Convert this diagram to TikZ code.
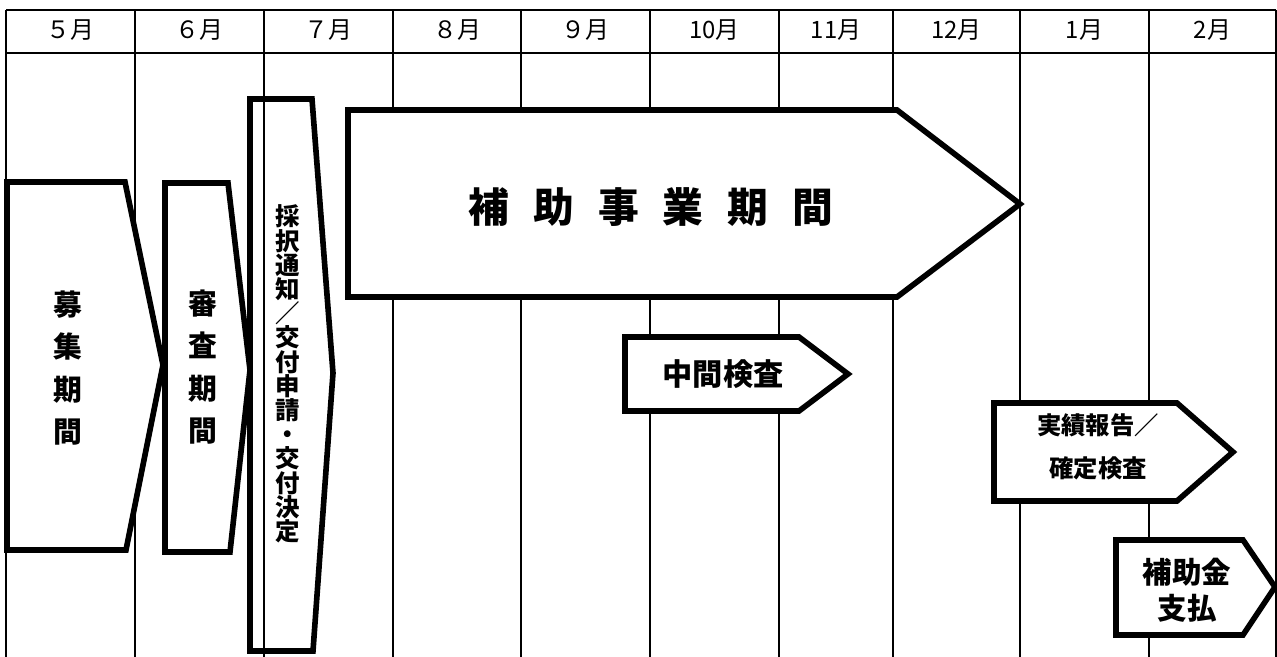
\documentclass[tikz,border=0pt]{standalone}
\usepackage{fontspec}
\setmainfont{Noto Sans CJK JP}
\usetikzlibrary{calc}

\begin{document}
\begin{tikzpicture}[%
  x=0.025cm, y=-0.025cm,
  gridline/.style={line width=1.4pt},
  phase/.style={line width=4pt, fill=white},
  month/.style={inner sep=0pt, font=\fontsize{17}{20}\selectfont},
  phasetext/.style={inner sep=0pt, align=center},
]

  \useasboundingbox (0,0) rectangle (1277,657);

  \draw[gridline] (6,10) -- (1276,10);
  \draw[gridline] (6,53) -- (1276,53);
  \foreach \x in {6,135,264,393,521,650,779,893,1020,1149,1276}
    \draw[gridline] (\x,10) -- (\x,657);

  \foreach \c/\m [count=\i] in {70.5/５月, 199.5/６月, 328.5/７月, 457/８月,
      585.5/９月, 714.5/10月, 836/11月, 956.5/12月, 1084.5/1月, 1212.5/2月}
    \node[month] (m\i) at (\c,30) {\m};

  \draw[phase] (7,182) -- (125,182) -- (163,365) -- (126,550) -- (7,550) -- cycle;
  \node[phasetext, font=\bfseries\fontsize{20.5}{30}\selectfont] (boshu) at (68,368)
    {募\\集\\期\\間};

  \draw[phase] (165,183) -- (228,183) -- (250,370) -- (230,552) -- (165,552) -- cycle;
  \node[phasetext, font=\bfseries\fontsize{20.5}{30}\selectfont] (shinsa) at (203,367)
    {審\\査\\期\\間};

  \draw[phase, fill=none] (250,99) -- (312,99) -- (333,373) -- (313,651) -- (250,651) -- cycle;
  \node[phasetext, font=\bfseries\fontsize{17.4}{17.2}\selectfont] (saitaku) at (288,374)
    {採\\択\\通\\知\\／\\交\\付\\申\\請\\・\\交\\付\\決\\定};

  \draw[phase] (348,110) -- (897,110) -- (1020,204) -- (897,297) -- (348,297) -- cycle;
  \node[phasetext, font=\bfseries\fontsize{29}{34}\selectfont] (hojo) at (651,207)
    {\spaceskip=17pt\relax 補 助 事 業 期 間};

  \draw[phase] (625,337) -- (799,337) -- (848,374) -- (799,411) -- (625,411) -- cycle;
  \node[phasetext, font=\bfseries\fontsize{21.5}{26}\selectfont] (chukan) at (723,374)
    {中間検査};

  \draw[phase] (994,403) -- (1177,403) -- (1233,452) -- (1177,501) -- (994,501) -- cycle;
  \node[phasetext, font=\bfseries\fontsize{17.3}{30.6}\selectfont] (jisseki) at (1098,447)
    {実績報告／\\確定検査};

  \draw[phase] (1116,540) -- (1243,540) -- (1275,587) -- (1243,635) -- (1116,635) -- cycle;
  \node[phasetext, font=\bfseries\fontsize{21}{25.6}\selectfont] (shiharai) at (1187,590)
    {補助金\\支払};

\end{tikzpicture}
\end{document}
